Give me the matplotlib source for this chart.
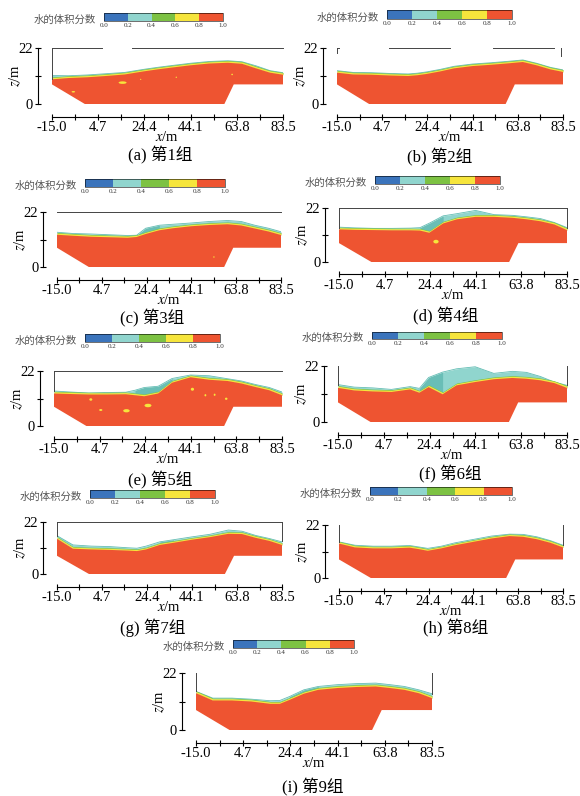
import numpy as np
import matplotlib
import matplotlib.pyplot as plt
from matplotlib.colors import ListedColormap, BoundaryNorm
from matplotlib.patches import Ellipse

plt.rcParams['font.family'] = ['Liberation Serif', 'Noto Sans CJK SC']
plt.rcParams['mathtext.fontset'] = 'stix'

# ---- data ----
# knots along the channel (m)
X = [-15, -8, 0, 8, 16, 20, 24, 30, 36, 44, 52, 60, 66, 72, 78, 83.5]

# channel bed (m)
BED_X = [-15, -1, 58.5, 62.5, 83.5]
BED_Z = [7.7, 0, 0, 7.7, 7.7]

# top of the fully-water region (volume fraction 1) and top of the free surface
RED_A = [9.7, 10.2, 10.5, 11.0, 11.6, 12.2, 12.8, 13.6, 14.3, 15.2, 15.9, 16.2, 15.8, 14.0, 12.3, 11.5]
TOP_A = [11.2, 11.1, 11.4, 11.9, 12.4, 13.0, 13.6, 14.4, 15.1, 16.0, 16.7, 17.0, 16.6, 15.0, 13.1, 12.3]
RED_B = [12.3, 11.6, 11.5, 11.2, 11.0, 11.3, 11.8, 12.8, 14.0, 14.9, 15.4, 16.0, 16.5, 15.2, 13.6, 12.6]
TOP_B = [13.1, 12.4, 12.3, 12.0, 11.8, 12.1, 12.6, 13.6, 14.8, 15.7, 16.2, 16.8, 17.3, 16.0, 14.4, 13.4]
RED_C = [12.9, 12.5, 12.1, 11.9, 11.7, 12.0, 13.2, 14.7, 15.5, 16.3, 16.8, 17.1, 16.6, 15.4, 14.2, 12.8]
TOP_C = [13.9, 13.4, 13.2, 12.9, 12.6, 12.7, 15.5, 16.7, 17.1, 17.6, 18.2, 18.6, 18.2, 16.7, 15.5, 14.1]
RED_D = [13.3, 13.1, 13.0, 12.9, 12.9, 12.8, 11.9, 15.7, 17.4, 18.4, 18.4, 18.0, 17.4, 16.6, 15.3, 13.0]
TOP_D = [14.2, 13.9, 13.7, 13.7, 13.8, 14.0, 15.8, 18.8, 19.7, 21.0, 19.3, 19.0, 18.4, 17.7, 16.1, 14.0]
RED_E = [13.0, 12.8, 12.6, 12.6, 12.7, 12.3, 11.9, 13.0, 17.3, 19.5, 18.5, 18.0, 17.0, 15.6, 14.3, 12.3]
TOP_E = [14.0, 13.6, 13.2, 13.4, 13.5, 14.3, 15.4, 15.9, 19.0, 20.4, 20.1, 18.9, 18.0, 16.6, 15.4, 13.6]
RED_F = [13.4, 12.4, 12.0, 11.8, 12.8, 11.5, 13.7, 10.9, 14.4, 15.7, 16.8, 17.3, 17.0, 16.4, 15.3, 13.4]
TOP_F = [14.7, 13.7, 13.4, 12.8, 13.9, 13.2, 17.5, 19.6, 20.9, 21.7, 19.1, 19.9, 19.5, 17.9, 15.7, 14.4]
RED_G = [14.9, 10.7, 10.4, 10.2, 9.9, 9.7, 10.4, 12.3, 13.2, 14.5, 15.6, 17.0, 16.9, 15.3, 14.0, 12.3]
TOP_G = [16.2, 12.3, 11.8, 11.6, 11.1, 10.9, 11.8, 13.6, 14.5, 15.7, 16.8, 18.6, 18.1, 16.3, 15.0, 13.6]
RED_H = [14.3, 12.7, 12.3, 12.3, 12.6, 12.0, 11.3, 12.3, 13.6, 15.0, 16.4, 17.4, 17.1, 16.1, 14.6, 12.7]
TOP_H = [15.0, 13.6, 13.2, 13.2, 13.5, 12.9, 12.3, 13.2, 14.6, 16.0, 17.4, 18.2, 18.1, 17.1, 15.5, 13.6]
RED_I = [14.2, 11.4, 11.4, 11.0, 10.1, 10.1, 11.6, 14.0, 15.5, 16.2, 16.6, 16.8, 16.2, 15.5, 14.2, 12.3]
TOP_I = [14.9, 12.3, 12.3, 11.9, 11.3, 11.4, 12.9, 15.5, 16.8, 17.5, 17.9, 18.1, 17.5, 16.8, 15.5, 14.0]

# stretch of darker, mixed surface water (x0, x1) in m
DARK_C = (20, 30)
DARK_D = (20, 30)
DARK_E = (20, 36)
DARK_F = (20, 30)
DARK_G = (30, 36)
DARK_I = (24, 36)

# trapped air pockets (x, z, width, height) in m
BUBBLES_A = [(15.1, 8.4, 3.4, 1.0), (-5.9, 4.8, 1.5, 0.6), (38.0, 10.5, 0.6, 0.5),
             (61.8, 11.6, 0.7, 0.6), (22.8, 9.7, 0.6, 0.4)]
BUBBLES_C = [(54.0, 4.0, 0.7, 0.5)]
BUBBLES_D = [(26.9, 8.3, 2.3, 1.5)]
BUBBLES_E = [(0.9, 10.6, 1.3, 1.0), (5.2, 6.4, 1.4, 0.8), (16.3, 6.1, 2.8, 1.3), (25.6, 8.2, 3.0, 1.4),
             (44.8, 14.7, 1.4, 1.2), (50.4, 12.3, 0.8, 0.9), (54.4, 12.5, 0.8, 0.9), (59.4, 10.9, 1.1, 0.9)]

# domain boundary lines (x0, z0, x1, z1)
WALLS_A = [(-15, 22, 6.2, 22), (19, 22, 83.5, 22), (-15, 22, -15, 10)]
WALLS_B = [(-15, 22, -14, 22), (-15, 22, -15, 20), (7.8, 22, 34.3, 22), (53, 22, 79.6, 22), (82.5, 22, 82.5, 19)]
WALLS_C = [(-15, 22, 83.5, 22)]
WALLS_D = [(-15, 22, 83.5, 22), (-15, 22, -15, 14), (83.5, 22, 83.5, 14)]
WALLS_E = [(-15, 22, 83.5, 22), (-15, 22, -15, 14)]
WALLS_F = [(-15, 22, -15, 14.7), (83.5, 22, 83.5, 14.4)]
WALLS_G = [(-15, 22, 83.5, 22), (-15, 22, -15, 16), (83.5, 22, 83.5, 14)]
WALLS_H = [(-15, 22, -15, 15), (83.5, 22, 83.5, 13.6)]
WALLS_I = [(-15, 22, -15, 14.9), (83.5, 22, 83.5, 14)]

LETTERS = ['a', 'b', 'c', 'd', 'e', 'f', 'g', 'h', 'i']
RED = [RED_A, RED_B, RED_C, RED_D, RED_E, RED_F, RED_G, RED_H, RED_I]
TOP = [TOP_A, TOP_B, TOP_C, TOP_D, TOP_E, TOP_F, TOP_G, TOP_H, TOP_I]
DARK = [None, None, DARK_C, DARK_D, DARK_E, DARK_F, DARK_G, None, DARK_I]
BUBBLES = [BUBBLES_A, [], BUBBLES_C, BUBBLES_D, BUBBLES_E, [], [], [], []]
WALLS = [WALLS_A, WALLS_B, WALLS_C, WALLS_D, WALLS_E, WALLS_F, WALLS_G, WALLS_H, WALLS_I]

X_TICKS = np.linspace(-15, 83.5, 11)
X_TICK_LABELS = ['-15.0', '', '4.7', '', '24.4', '', '44.1', '', '63.8', '', '83.5']
CB_TICKS = [0.0, 0.2, 0.4, 0.6, 0.8, 1.0]
CB_COLORS = ['#3B74BC', '#90D5CE', '#7DC243', '#F6E53C', '#EE5431']

# ---- layout in pixels ----
W, H = 580, 796
# left, right, y of z=22, y of z=0
PLOT_BOX = [(52, 283, 48, 104), (337, 563, 48, 104), (57, 281, 212, 267),
            (339, 567, 208, 262), (54, 282, 371, 426), (338, 567, 366, 422),
            (57, 282, 522, 574), (339, 563, 525, 578), (196, 432, 673, 730)]
# left, right, top, bottom
CBAR_BOX = [(104, 223, 13, 21), (387, 512, 10, 19), (85, 225, 179, 187),
            (375, 500, 176, 184), (85, 220, 334, 342), (372, 502, 332, 339),
            (90, 215, 490, 498), (370, 512, 487, 495), (233, 354, 640, 648)]
CAPTION_XY = [(160, 155), (440, 157), (152, 318), (446, 316), (160, 480),
              (450, 474), (153, 628), (456, 628), (313, 787)]

fig = plt.figure(figsize=(W / 100, H / 100), dpi=100)


def px_axes(left, right, top, bottom):
    return fig.add_axes([left / W, 1 - bottom / H, (right - left) / W, (bottom - top) / H])


cmap = ListedColormap(CB_COLORS)
norm = BoundaryNorm(CB_TICKS, cmap.N)
xs = np.array(X)

for k in range(9):
    left, right, ytop, ybot = PLOT_BOX[k]
    ax = px_axes(left, right, ytop, ybot)
    red = np.array(RED[k])
    top = np.array(TOP[k])

    ax.fill_between(X, red, top, color=CB_COLORS[1], lw=0, zorder=1)
    if DARK[k] is not None:
        x0, x1 = DARK[k]
        mask = (xs >= x0) & (xs <= x1)
        ax.fill_between(X, red + 0.8, top, where=mask, color='#4FAFA6', alpha=0.6, lw=0, zorder=1.2)
    ax.plot(X, top, color='#63BDB4', lw=0.6, zorder=1.5)
    ax.fill_between(X, red + 0.55, red + 0.9, color=CB_COLORS[2], lw=0, zorder=2)
    ax.fill_between(X, red, red + 0.65, color=CB_COLORS[3], lw=0, zorder=3)
    ax.fill(np.concatenate([X, BED_X[::-1]]), np.concatenate([red, BED_Z[::-1]]),
            color=CB_COLORS[4], lw=0, zorder=4)
    for bx, bz, bw, bh in BUBBLES[k]:
        ax.add_patch(Ellipse((bx, bz), bw, bh, color=CB_COLORS[3], lw=0, zorder=5))
    for x0, z0, x1, z1 in WALLS[k]:
        ax.plot([x0, x1], [z0, z1], color='#444444', lw=0.7, clip_on=False, zorder=6)

    ax.set_xlim(-15, 83.5)
    ax.set_ylim(0, 22)
    for s in ['top', 'right']:
        ax.spines[s].set_visible(False)
    ax.spines['bottom'].set_position(('outward', 9))
    ax.spines['left'].set_position(('outward', 10))
    ax.spines['bottom'].set_bounds(-15, 83.5)
    ax.spines['left'].set_bounds(0, 22)
    ax.set_xticks(X_TICKS)
    ax.set_xticklabels(X_TICK_LABELS)
    ax.set_yticks([0, 11, 22])
    ax.set_yticklabels(['0', '', '22'])
    ax.tick_params(direction='inout', length=5, width=0.8, labelsize=10.5, pad=1)
    ax.patch.set_alpha(0)

    fig.text((left + right) / 2 / W, 1 - (ybot + 33) / H, '$x$/m', ha='center', va='center', fontsize=10.5)
    fig.text((left - 37) / W, 1 - (ytop + ybot) / 2 / H, '$z$/m', ha='center', va='center',
             rotation=90, fontsize=10.5)
    cx, cy = CAPTION_XY[k]
    fig.text(cx / W, 1 - cy / H, '(%s) 第%d组' % (LETTERS[k], k + 1), ha='center', va='center', fontsize=12)

    cl, cr, ct, cb = CBAR_BOX[k]
    cax = px_axes(cl, cr, ct, cb)
    sm = matplotlib.cm.ScalarMappable(norm=norm, cmap=cmap)
    cbar = fig.colorbar(sm, cax=cax, orientation='horizontal', ticks=CB_TICKS)
    cbar.ax.set_xticklabels(['%.1f' % t for t in CB_TICKS])
    cbar.ax.tick_params(length=0, labelsize=5, pad=1.5, labelcolor='#333333')
    cbar.outline.set_linewidth(0.4)
    fig.text((cl - 8) / W, 1 - (cb - 1) / H, '水的体积分数', ha='right', va='center',
             fontsize=7.5, color='#555555', family=['Noto Sans CJK SC'])

fig.savefig('out.png', dpi=100)
